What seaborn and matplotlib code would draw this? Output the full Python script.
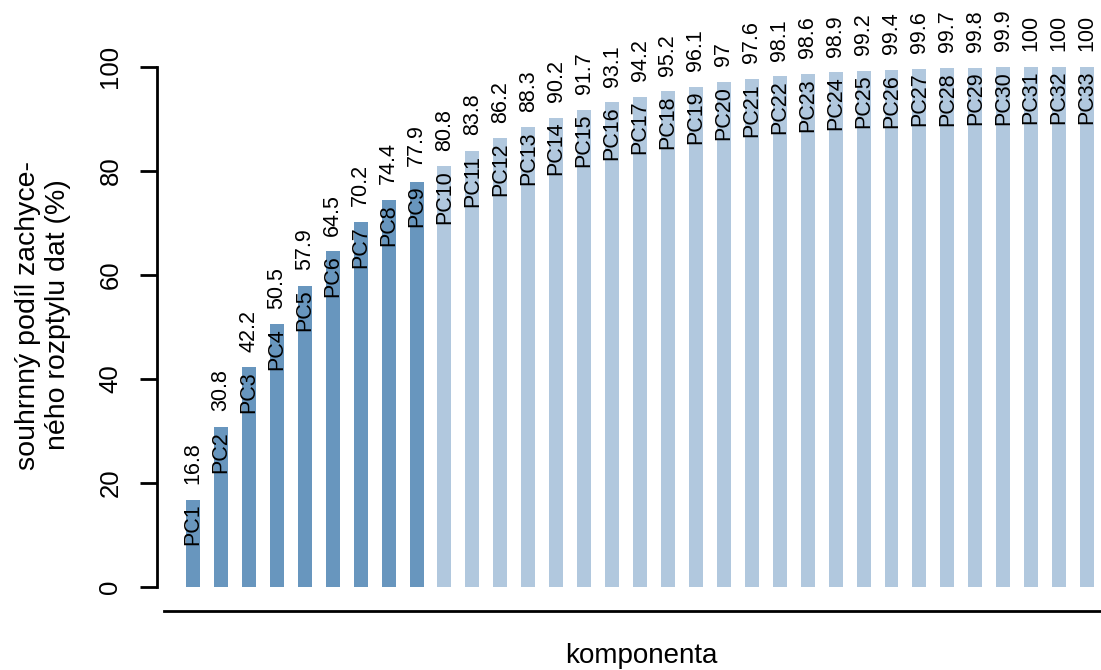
import matplotlib
matplotlib.use("Agg")
import matplotlib.pyplot as plt
import seaborn as sns
import pandas as pd

# Cumulative explained variance of the principal components (%)
components = [f"PC{i}" for i in range(1, 34)]
cumulative = [16.8, 30.8, 42.2, 50.5, 57.9, 64.5, 70.2, 74.4, 77.9, 80.8,
              83.8, 86.2, 88.3, 90.2, 91.7, 93.1, 94.2, 95.2, 96.1, 97.0,
              97.6, 98.1, 98.6, 98.9, 99.2, 99.4, 99.6, 99.7, 99.8, 99.9,
              100.0, 100.0, 100.0]
n_kept = 9
groups = ["kept" if i < n_kept else "rest" for i in range(len(components))]
palette = {"kept": "#6896BE", "rest": "#B1C8DE"}

y_ticks = [0, 20, 40, 60, 80, 100]
ylabel_lines = ["souhrnný podíl zachyce-", "ného rozptylu dat (%)"]
xlabel = "komponenta"

sns.set_theme(style="white")
plt.rcParams["font.family"] = ["Liberation Sans", "DejaVu Sans"]
plt.rcParams["text.color"] = "black"
plt.rcParams["axes.labelcolor"] = "black"
plt.rcParams["ytick.color"] = "black"
plt.rcParams["xtick.color"] = "black"

W, H = 1101, 670
fig = plt.figure(figsize=(W / 100, H / 100), dpi=100)
ax = fig.add_axes([157 / W, (H - 611) / H, 944 / W, 611 / H])

df = pd.DataFrame({"komponenta": components, "podil": cumulative, "skupina": groups})
sns.barplot(data=df, x="komponenta", y="podil", hue="skupina", palette=palette,
            dodge=False, width=0.5, linewidth=0, saturation=1, legend=False, ax=ax)

px_per_unit = (587 - 66.5) / 100
ax.set_ylim(-(611 - 587) / px_per_unit, 587 / px_per_unit)
ax.set_xlim(-(193 - 157) / 27.94, (1101 - 193) / 27.94)

# value labels above each bar and component names inside the bar tops
for i, (name, v) in enumerate(zip(components, cumulative)):
    ax.text(i, v + 3.0, f"{v:g}", rotation=90, rotation_mode="anchor",
            ha="left", va="center", fontsize=15.5, color="black")
    ax.text(i, v - 0.8, name, rotation=90, rotation_mode="anchor",
            ha="right", va="center", fontsize=15.5, color="black")

# axes styling: y axis spans 0-100, a plain line under the bars
for side in ("top", "right"):
    ax.spines[side].set_visible(False)
ax.spines["left"].set_bounds(0, 100)
ax.spines["left"].set_linewidth(2.0)
ax.spines["left"].set_color("black")
ax.spines["bottom"].set_bounds(-(193 - 164) / 27.94, (1101 - 193) / 27.94)
ax.spines["bottom"].set_linewidth(2.0)
ax.spines["bottom"].set_color("black")

ax.set_yticks(y_ticks)
ax.set_yticklabels([str(t) for t in y_ticks], rotation=90, va="center")
ax.tick_params(axis="y", direction="out", length=12.2, width=2.0, color="black",
               labelsize=18.5, labelcolor="black", pad=12.7, left=True)
ax.set_xticks([])
ax.set_xlabel("")
ax.set_ylabel("")

fig.text(641 / W, 1 - 663 / H, xlabel, ha="center", va="baseline", fontsize=20)
fig.text(35 / W, 1 - 315 / H, ylabel_lines[0], rotation=90, rotation_mode="anchor",
         ha="center", va="baseline", fontsize=20.5)
fig.text(65 / W, 1 - 315 / H, ylabel_lines[1], rotation=90, rotation_mode="anchor",
         ha="center", va="baseline", fontsize=20.5)

fig.savefig("out.png", dpi=100, facecolor="white")
